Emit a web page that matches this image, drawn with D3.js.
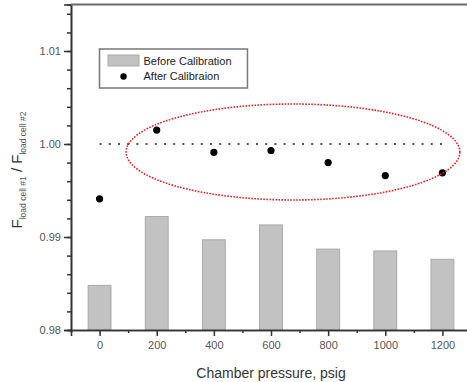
<!DOCTYPE html>
<html>
<head>
<meta charset="utf-8">
<script src="https://cdn.jsdelivr.net/npm/d3@7"></script>
<style>
  body { margin: 0; background: #fff; }
  text { font-family: "Liberation Sans", Arial, sans-serif; }
</style>
</head>
<body>
<div id="chart"></div>
<script>
// data
const pressures = [0, 200, 400, 600, 800, 1000, 1200];
const beforeCal = [0.9848, 0.9922, 0.9897, 0.9913, 0.9887, 0.9885, 0.9876];
const afterCal = [0.9941, 1.0015, 0.9991, 0.9993, 0.9980, 0.9966, 0.9969];
const yMajorTicks = [0.98, 0.99, 1.00, 1.01];
const xMajorTicks = [0, 200, 400, 600, 800, 1000, 1200];
const legendLabels = ["Before Calibration", "After Calibraion"];
// annotation ellipse (data units)
const ellipse = { cx: 677, cy: 0.99914, rx: 584, ry: 0.00516 };

let width = 467;
let height = 382;
let margin = { top: 4.5, right: -4, bottom: 52, left: 71 };

let svg = d3.select("#chart").append("svg")
  .attr("width", width).attr("height", height);

let x = d3.scaleLinear().domain([-100, 1300]).range([margin.left, width - margin.right]);
let y = d3.scaleLinear().domain([0.98, 1.015]).range([height - margin.bottom, margin.top]);

const barW = x(80) - x(0);

// bars
svg.selectAll(".bar")
  .data(pressures)
  .enter()
  .append("rect")
  .attr("class", "bar")
  .attr("x", (d) => x(d) - barW / 2)
  .attr("y", (d, i) => y(beforeCal[i]))
  .attr("width", barW)
  .attr("height", (d, i) => y(0.98) - y(beforeCal[i]))
  .attr("fill", "#c2c2c2")
  .attr("stroke", "#a9a9a9")
  .attr("stroke-width", 1);

// reference line at 1.00
svg.append("line")
  .attr("x1", x(0)).attr("x2", x(1200))
  .attr("y1", y(1.0)).attr("y2", y(1.0))
  .attr("stroke", "#555")
  .attr("stroke-width", 2)
  .attr("stroke-dasharray", "2,7.2");

// points
svg.selectAll(".pt")
  .data(pressures)
  .enter()
  .append("circle")
  .attr("class", "pt")
  .attr("cx", (d) => x(d))
  .attr("cy", (d, i) => y(afterCal[i]))
  .attr("r", 3.6)
  .attr("fill", "#000");

// red dotted ellipse
svg.append("ellipse")
  .attr("cx", x(ellipse.cx))
  .attr("cy", y(ellipse.cy))
  .attr("rx", x(ellipse.cx + ellipse.rx) - x(ellipse.cx))
  .attr("ry", y(ellipse.cy - ellipse.ry) - y(ellipse.cy))
  .attr("fill", "none")
  .attr("stroke", "#ee2020")
  .attr("stroke-width", 1.6)
  .attr("stroke-dasharray", "1.6,1.4");

// axes
let yAxis = d3.axisLeft(y).tickValues(yMajorTicks).tickFormat(d3.format(".2f"))
  .tickSize(7).tickPadding(3);
let yMinor = d3.axisLeft(y).tickValues(d3.range(0.98, 1.0151, 0.002)).tickSize(4).tickFormat("");
let xAxis = d3.axisBottom(x).tickValues(xMajorTicks).tickFormat(d3.format("d"))
  .tickSize(6).tickPadding(5);
let xMinor = d3.axisBottom(x).tickValues(d3.range(100, 1300, 200)).tickSize(3).tickFormat("");

function styleAxis(g) {
  g.select(".domain").attr("stroke", "#333").attr("stroke-width", 1.6);
  g.selectAll(".tick line").attr("stroke", "#333").attr("stroke-width", 1.5);
  g.selectAll(".tick text").attr("fill", "#555").style("font-size", "11px");
}

svg.append("g").attr("transform", `translate(${margin.left},0)`).call(yMinor).call(styleAxis);
svg.append("g").attr("transform", `translate(${margin.left},0)`).call(yAxis).call(styleAxis);
svg.append("g").attr("transform", `translate(0,${y(0.98)})`).call(xMinor).call(styleAxis);
svg.append("g").attr("transform", `translate(0,${y(0.98)})`).call(xAxis).call(styleAxis);

// top frame line
svg.append("line")
  .attr("x1", margin.left).attr("x2", width)
  .attr("y1", y(1.015)).attr("y2", y(1.015))
  .attr("stroke", "#6a6a6a").attr("stroke-width", 2);

// axis titles
svg.append("text")
  .attr("x", 271).attr("y", 378)
  .attr("text-anchor", "middle")
  .attr("fill", "#333")
  .style("font-size", "14px")
  .text("Chamber pressure, psig");

let yTitle = svg.append("text")
  .attr("transform", "translate(22,170) rotate(-90)")
  .attr("text-anchor", "middle")
  .attr("fill", "#333")
  .style("font-size", "15px");
yTitle.append("tspan").text("F");
yTitle.append("tspan").attr("dy", 4).style("font-size", "8.5px").attr("fill", "#555").text("load cell #1");
yTitle.append("tspan").attr("dy", -4).text(" / F");
yTitle.append("tspan").attr("dy", 4).style("font-size", "8.5px").attr("fill", "#555").text("load cell #2");

// legend
let legend = svg.append("g");
legend.append("rect")
  .attr("x", 99.5).attr("y", 49)
  .attr("width", 148).attr("height", 39)
  .attr("fill", "#fff")
  .attr("stroke", "#777").attr("stroke-width", 1.5);
legend.append("rect")
  .attr("x", 108).attr("y", 55)
  .attr("width", 31).attr("height", 11)
  .attr("fill", "#c2c2c2").attr("stroke", "#a9a9a9");
legend.append("circle")
  .attr("cx", 123.5).attr("cy", 76.5).attr("r", 3.2).attr("fill", "#000");
legend.selectAll(".lt")
  .data(legendLabels)
  .enter()
  .append("text")
  .attr("class", "lt")
  .attr("x", 143.5)
  .attr("y", (d, i) => 64.5 + i * 15)
  .attr("fill", "#222")
  .style("font-size", "11px")
  .text((d) => d);
</script>
</body>
</html>
